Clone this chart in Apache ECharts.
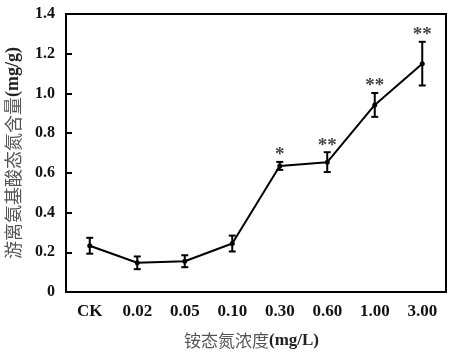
<!DOCTYPE html>
<html><head><meta charset="utf-8">
<script src="https://cdn.jsdelivr.net/npm/echarts@6/dist/echarts.min.js"></script>
<style>html,body{margin:0;padding:0;background:#fff}#c{width:468px;height:356px}</style>
</head><body><div id="c"></div>
<script>
var categories = ['CK','0.02','0.05','0.10','0.30','0.60','1.00','3.00'];
var means = [0.233,0.147,0.155,0.244,0.635,0.654,0.942,1.150];
var errors = [0.040,0.032,0.030,0.040,0.020,0.050,0.060,0.110];
var marks = ['','','','','*','**','**','**'];
var yTicks = [0,0.2,0.4,0.6,0.8,1.0,1.2,1.4];

var chart = echarts.init(document.getElementById('c'));
var serif = 'Liberation Serif, Times New Roman, serif';
var cjk = 'Noto Sans CJK SC';
var errData = means.map(function(m,i){return [i, m-errors[i], m+errors[i], marks[i]];});

chart.setOption({
  animation:false,
  grid:{left:66,right:22,top:14,bottom:64,containLabel:false,outerBoundsMode:'none',
        show:true,borderColor:'#000',borderWidth:2,backgroundColor:'transparent'},
  xAxis:{
    type:'category', data:categories, boundaryGap:true,
    axisLine:{lineStyle:{color:'#000',width:2}},
    axisTick:{inside:true,length:6,lineStyle:{color:'#000',width:2}},
    axisLabel:{color:'#111',fontFamily:serif,fontWeight:'bold',fontSize:17,margin:11},
    name:'{c|铵态氮浓度}{s|(mg/L)}', nameLocation:'middle', nameGap:40,
    nameTextStyle:{padding:[0,9,0,0],rich:{c:{fontFamily:cjk,fontSize:17,color:'#555'},s:{fontFamily:serif,fontWeight:'bold',fontSize:17,color:'#222'}}}
  },
  yAxis:{
    type:'value', min:0, max:1.4, interval:0.2,
    splitLine:{show:false},
    axisLine:{show:true,lineStyle:{color:'#000',width:2}},
    axisTick:{show:true,inside:true,length:6,lineStyle:{color:'#000',width:2}},
    axisLabel:{color:'#111',fontFamily:serif,fontWeight:'bold',fontSize:16,margin:11,
      formatter:function(v){return v===0?'0':v.toFixed(1);}},
    name:'{c|游离氨基酸态氮含量}{s|(mg/g)}', nameLocation:'middle', nameGap:44,
    nameTextStyle:{rich:{c:{fontFamily:cjk,fontSize:18,color:'#555'},s:{fontFamily:serif,fontWeight:'bold',fontSize:18,color:'#222'}}}
  },
  series:[
    {type:'line', data:means, symbol:'circle', symbolSize:5,
     itemStyle:{color:'#000'}, lineStyle:{color:'#000',width:2}, z:3},
    {type:'custom', data:errData, z:4,
     renderItem:function(params, api){
       var x = api.value(0);
       var lo = api.coord([x, api.value(1)]);
       var hi = api.coord([x, api.value(2)]);
       var w = 3.5;
       var st = {stroke:'#000', lineWidth:2};
       var children = [
         {type:'line', shape:{x1:hi[0],y1:hi[1],x2:lo[0],y2:lo[1]}, style:st},
         {type:'line', shape:{x1:hi[0]-w,y1:hi[1],x2:hi[0]+w,y2:hi[1]}, style:st},
         {type:'line', shape:{x1:lo[0]-w,y1:lo[1],x2:lo[0]+w,y2:lo[1]}, style:st}
       ];
       var t = api.value(3);
       if (t) {
         children.push({type:'text', style:{text:t, x:hi[0], y:hi[1]+3, align:'center', verticalAlign:'bottom',
           font:'bold 19px Liberation Serif', fill:'#444'}});
       }
       return {type:'group', children:children};
     },
     encode:{x:0,y:[1,2]}
    }
  ]
});
</script></body></html>
